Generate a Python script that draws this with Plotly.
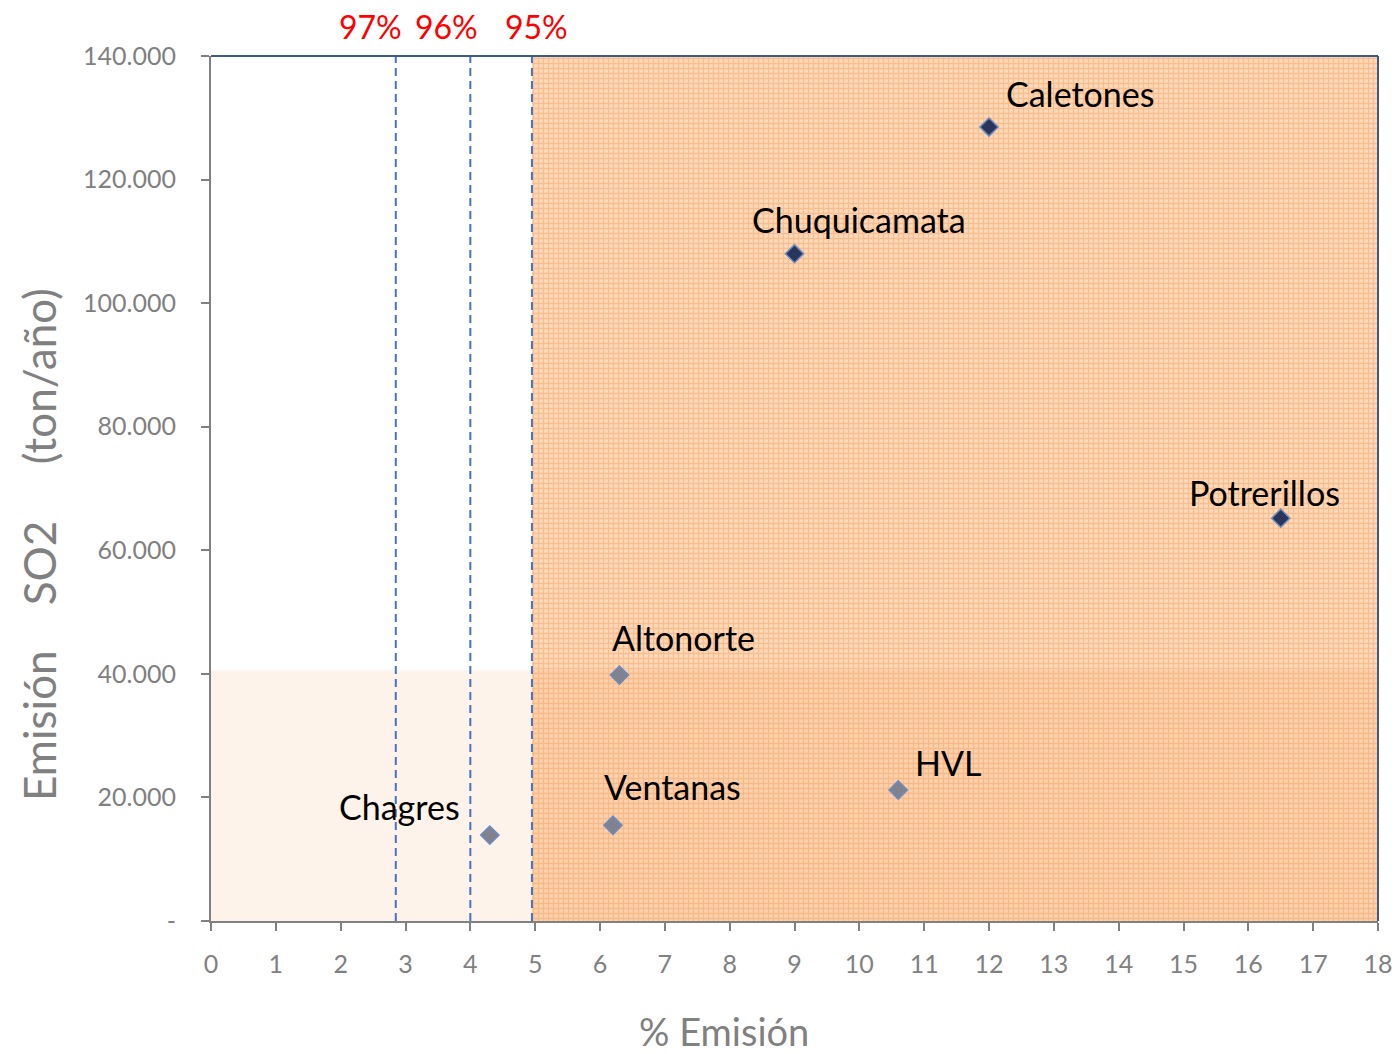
import plotly.graph_objects as go

# ---- data ----
plants = ["Caletones", "Chuquicamata", "Potrerillos", "Altonorte", "HVL", "Ventanas", "Chagres"]
pct_emision = [12.0, 9.0, 16.5, 6.3, 10.6, 6.2, 4.3]
so2_emision = [128500, 108000, 65200, 39800, 21200, 15500, 13900]
label_dx = [91, 64, -16, 64, 50, 60, -90]
label_dy = [34, 34, 26, 38, 28, 39, 29]

thresholds = [2.85, 4.0, 4.95]
threshold_labels = ["97%", "96%", "95%"]
threshold_dx = [-25, -24, 5]

region_low_y = 40600
x_max = 18
y_max = 140000

x_ticks = list(range(0, 19))
y_ticks = [0, 20000, 40000, 60000, 80000, 100000, 120000, 140000]
y_tick_labels = ["-", "20.000", "40.000", "60.000", "80.000", "100.000", "120.000", "140.000"]

FONT = "Lato, 'Open Sans', sans-serif"
GRAY = "#808080"
BLUE = "#4472c4"
DARKBLUE = "#3b5a8c"

fig = go.Figure()

# shaded regions (orange pattern)
fig.add_trace(go.Scatter(
    x=[thresholds[2], x_max, x_max, thresholds[2], thresholds[2]],
    y=[0, 0, y_max, y_max, 0],
    fill="toself", mode="lines", line=dict(width=0),
    fillcolor="rgba(248,185,135,1)",
    fillpattern=dict(shape="+", fgcolor="rgba(246,160,95,1)", bgcolor="rgba(252,218,188,1)",
                     size=5, solidity=0.45),
    hoverinfo="skip", showlegend=False))
fig.add_trace(go.Scatter(
    x=[0, x_max, x_max, 0, 0],
    y=[0, 0, region_low_y, region_low_y, 0],
    fill="toself", mode="lines", line=dict(width=0),
    fillcolor="rgba(247,160,90,0.13)",
    hoverinfo="skip", showlegend=False))

# dashed threshold lines
for t in thresholds:
    fig.add_trace(go.Scatter(x=[t, t], y=[0, y_max], mode="lines",
                             line=dict(color=BLUE, width=2, dash="8px,5px"),
                             hoverinfo="skip", showlegend=False))

# markers
marker_colors = ["#27365a" if y > region_low_y else "#808290" for y in so2_emision]
fig.add_trace(go.Scatter(
    x=pct_emision, y=so2_emision, mode="markers",
    marker=dict(symbol="diamond", size=14, color=marker_colors,
                line=dict(color="#6a8cc4", width=1.5)),
    showlegend=False))

annotations = []
for name, x, y, dx, dy in zip(plants, pct_emision, so2_emision, label_dx, label_dy):
    annotations.append(dict(x=x, y=y, xref="x", yref="y", text=name, showarrow=False,
                            xshift=dx, yshift=dy, xanchor="center", yanchor="middle",
                            font=dict(family=FONT, size=34, color="black")))
for t, lab, dx in zip(thresholds, threshold_labels, threshold_dx):
    annotations.append(dict(x=t, y=1, xref="x", yref="paper", text=lab, showarrow=False,
                            xshift=dx, yshift=8, xanchor="center", yanchor="bottom",
                            font=dict(family=FONT, size=32, color="#ff0000")))
# axis titles (placed as annotations to match the original offsets)
annotations.append(dict(x=-0.148, y=0.435, xref="paper", yref="paper",
                        text="Emisión&nbsp;&nbsp;&nbsp;&nbsp;SO2&nbsp;&nbsp;&nbsp;&nbsp;&nbsp;(ton/año)",
                        textangle=-90, showarrow=False, xanchor="center", yanchor="middle",
                        font=dict(family=FONT, size=44, color=GRAY)))
annotations.append(dict(x=0.4396, y=-0.127, xref="paper", yref="paper",
                        text="% Emisión", showarrow=False, xanchor="center", yanchor="middle",
                        font=dict(family=FONT, size=38, color=GRAY)))
fig.update_layout(annotations=annotations)

# top and right border lines
fig.add_shape(type="line", xref="paper", yref="paper", x0=0, x1=1, y0=1, y1=1,
              line=dict(color=DARKBLUE, width=2))
fig.add_shape(type="line", xref="paper", yref="paper", x0=1, x1=1, y0=0, y1=1,
              line=dict(color=DARKBLUE, width=2))

fig.update_xaxes(range=[0, x_max], tickvals=x_ticks, ticktext=[str(v) for v in x_ticks],
                 showgrid=False, zeroline=False, showline=True, linecolor=GRAY, linewidth=2,
                 ticks="outside", ticklen=8, tickcolor=GRAY, tickwidth=2,
                 ticklabelstandoff=12, automargin=False,
                 tickfont=dict(family=FONT, size=25, color=GRAY))
fig.update_yaxes(range=[0, y_max], tickvals=y_ticks, ticktext=y_tick_labels,
                 showgrid=False, zeroline=False, showline=True, linecolor=GRAY, linewidth=2,
                 ticks="outside", ticklen=8, tickcolor=GRAY, tickwidth=2,
                 ticklabelstandoff=20, automargin=False,
                 tickfont=dict(family=FONT, size=25, color=GRAY))

fig.update_layout(width=1398, height=1054,
                  margin=dict(l=211, r=20, t=56, b=133),
                  plot_bgcolor="white", paper_bgcolor="white")

fig.write_html("out.html", config={"displayModeBar": False},
               post_script="document.body.style.margin='0px';document.body.style.overflow='hidden';")
